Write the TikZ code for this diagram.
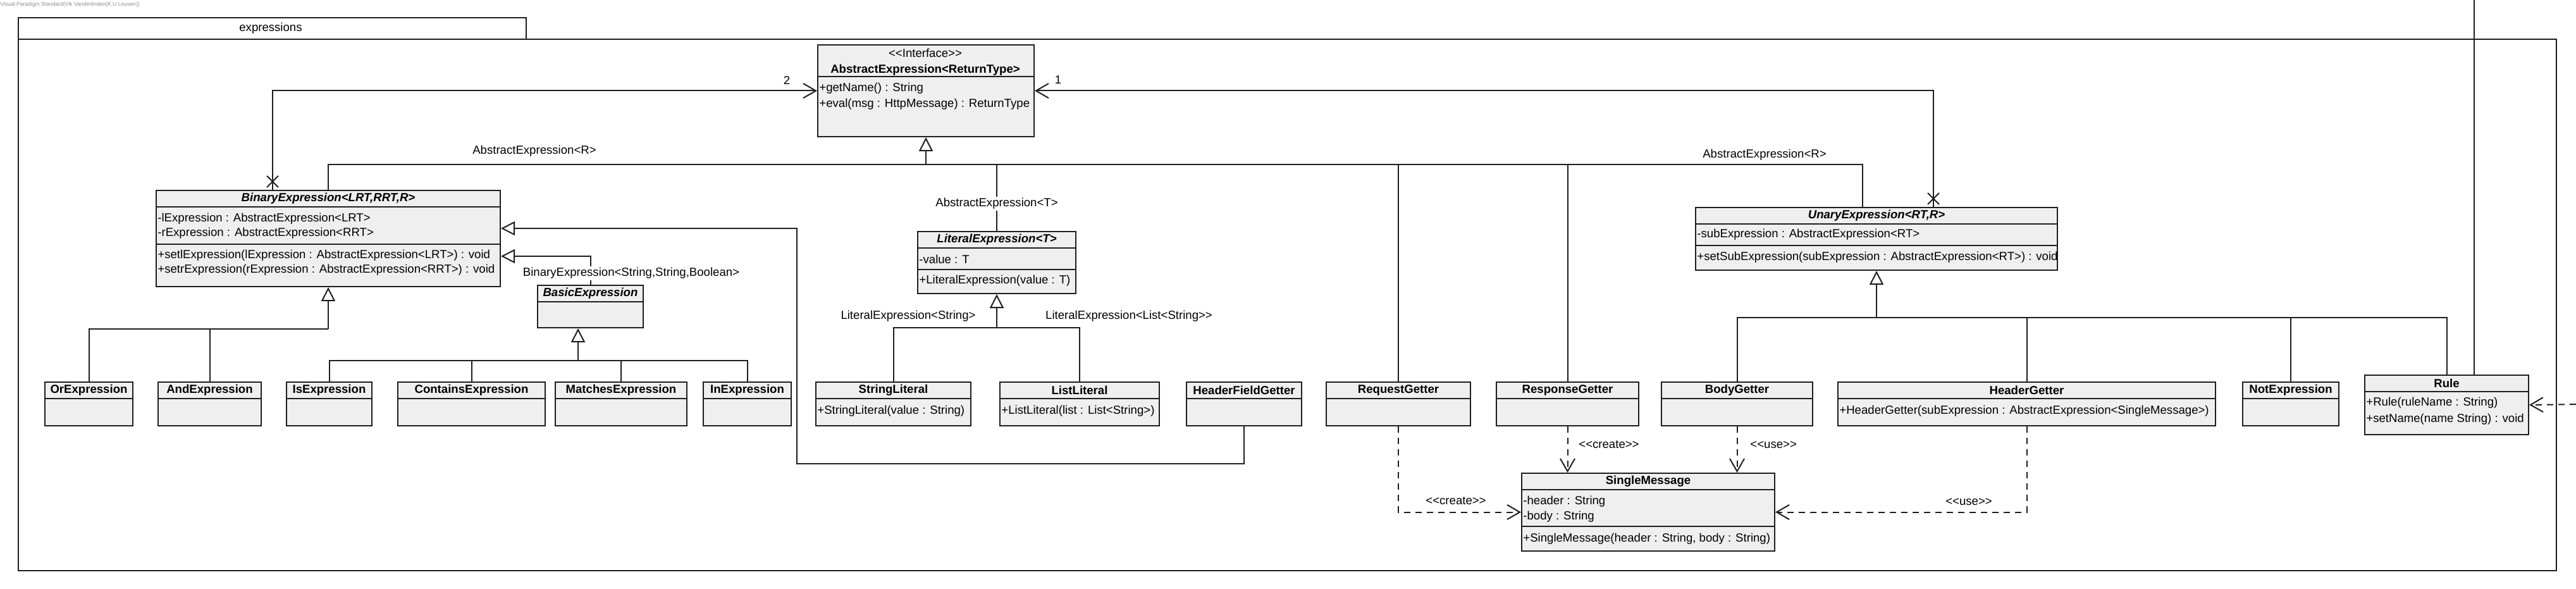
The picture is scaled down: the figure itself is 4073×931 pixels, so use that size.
\documentclass[tikz,border=0pt]{standalone}
\usepackage{fontspec}
\setmainfont{Liberation Sans}
\usetikzlibrary{arrows.meta, shapes.misc, calc, positioning}
\definecolor{classfill}{HTML}{EFEFEF}
\definecolor{umlline}{HTML}{1E1E1E}
\newcommand{\umlfont}{\fontsize{9.3}{11.5}\selectfont}
\newcommand{\dlt}{<\kern0pt<}
\newcommand{\dgt}{>\kern0pt>}
% box with title compartment: name, x, y, width, height, title style, title
\newcommand{\umlclass}[7]{%
  \node[classbox, wd=#4, ht=#5] (#1) at (#2,#3) {};
  \node[#6] (#1-title) at ($(#1.north)+(0,13.5)$) {#7};
  \draw[classsep] ($(#1.north west)+(0,27)$) -- ($(#1.north east)+(0,27)$);
}
\newcommand{\compsep}[2]{\draw[classsep] ($(#1.north west)+(0,#2)$) -- ($(#1.north east)+(0,#2)$);}
\tikzset{
    wd/.style={minimum width=#1*0.5pt},
    ht/.style={minimum height=#1*0.5pt},
    classbox/.style={draw=umlline, fill=classfill, line width=1pt, rectangle, anchor=north west, inner sep=0pt},
    classsep/.style={draw=umlline, line width=1pt},
    ctitle/.style={font=\umlfont\bfseries, inner sep=0pt},
    atitle/.style={font=\umlfont\bfseries\itshape, inner sep=0pt},
    member/.style={font=\umlfont, anchor=west, inner sep=0pt},
    rellabel/.style={font=\umlfont, fill=white, inner sep=1pt},
    conn/.style={draw=umlline, line width=1pt},
    gen/.style={conn, -{Triangle[open, length=11pt, width=11pt]}},
    nav/.style={conn, -{Straight Barb[length=10pt, width=11.5pt]}},
    dep/.style={nav, dash pattern=on 5pt off 4pt},
    xmark/.style={cross out, draw=umlline, line width=1pt, minimum size=8pt, inner sep=0pt},
    pkg/.style={draw=umlline, line width=1pt}
}

\begin{document}
\begin{tikzpicture}[x=0.5pt, y=-0.5pt]
\useasboundingbox (0,0) rectangle (4073,931);
\node[font=\fontsize{4.3}{5}\selectfont, text=black!45, anchor=west, inner sep=0pt] (vpmark) at (0,7) {Visual Paradigm Standard(Vik Vanderlinden(K.U.Leuven))};

% package frame
\draw[pkg] (29,28) rectangle (832,62);
\draw[pkg] (29,62) rectangle (4042,902);
\node[font=\umlfont] (pkgname) at (428,45) {expressions};

% interface
\node[classbox, wd=342, ht=145] (abs) at (1292,70) {};
\node[font=\umlfont, inner sep=0pt] (abs-st) at (1463,84) {\dlt Interface\dgt};
\node[ctitle] (abs-title) at (1463,111) {AbstractExpression<ReturnType>};
\compsep{abs}{51}
\node[member] (abs-m1) at (1295,140) {+getName() : String};
\node[member] (abs-m2) at (1295,165) {+eval(msg : HttpMessage) : ReturnType};

% abstract classes
\umlclass{bin}{246}{300}{544}{152}{atitle}{BinaryExpression<LRT,RRT,R>}
\compsep{bin}{86}
\node[member] (bin-a1) at (249,346) {-lExpression : AbstractExpression<LRT>};
\node[member] (bin-a2) at (249,369) {-rExpression : AbstractExpression<RRT>};
\node[member] (bin-o1) at (249,404) {+setlExpression(lExpression : AbstractExpression<LRT>) : void};
\node[member] (bin-o2) at (249,427) {+setrExpression(rExpression : AbstractExpression<RRT>) : void};

\umlclass{basic}{849}{450}{167}{67}{atitle}{BasicExpression}

\umlclass{lit}{1450}{365}{250}{98}{atitle}{LiteralExpression<T>}
\compsep{lit}{61}
\node[member] (lit-a1) at (1453,410) {-value : T};
\node[member] (lit-o1) at (1453,444) {+LiteralExpression(value : T)};

\umlclass{una}{2680}{327}{572}{99}{atitle}{UnaryExpression<RT,R>}
\compsep{una}{61}
\node[member] (una-a1) at (2683,371) {-subExpression : AbstractExpression<RT>};
\node[member] (una-o1) at (2683,407) {+setSubExpression(subExpression : AbstractExpression<RT>) : void};

% concrete classes
\umlclass{orx}{70}{603}{139}{69}{ctitle}{OrExpression}
\umlclass{andx}{249}{603}{163}{69}{ctitle}{AndExpression}
\umlclass{isx}{452}{603}{135}{69}{ctitle}{IsExpression}
\umlclass{conx}{628}{603}{233}{69}{ctitle}{ContainsExpression}
\umlclass{matx}{877}{603}{208}{69}{ctitle}{MatchesExpression}
\umlclass{inx}{1111}{603}{139}{69}{ctitle}{InExpression}
\umlclass{strlit}{1289}{603}{245}{69}{ctitle}{StringLiteral}
\node[member] (strlit-o1) at (1292,650) {+StringLiteral(value : String)};
\umlclass{lstlit}{1580}{603}{252}{69}{ctitle}{ListLiteral}
\node[member] (lstlit-o1) at (1583,650) {+ListLiteral(list : List<String>)};
\umlclass{hfg}{1875}{603}{182}{69}{ctitle}{HeaderFieldGetter}
\umlclass{reqg}{2096}{603}{228}{69}{ctitle}{RequestGetter}
\umlclass{resg}{2365}{603}{225}{69}{ctitle}{ResponseGetter}
\umlclass{bodyg}{2626}{603}{239}{69}{ctitle}{BodyGetter}
\umlclass{hdrg}{2905}{603}{597}{69}{ctitle}{HeaderGetter}
\node[member] (hdrg-o1) at (2908,650) {+HeaderGetter(subExpression : AbstractExpression<SingleMessage>)};
\umlclass{notx}{3545}{603}{152}{69}{ctitle}{NotExpression}
\umlclass{rule}{3738}{592}{259}{94}{ctitle}{Rule}
\node[member] (rule-o1) at (3741,637) {+Rule(ruleName : String)};
\node[member] (rule-o2) at (3741,663) {+setName(name String) : void};
\umlclass{smsg}{2405}{747}{400}{123}{ctitle}{SingleMessage}
\compsep{smsg}{85}
\node[member] (smsg-a1) at (2408,793) {-header : String};
\node[member] (smsg-a2) at (2408,817) {-body : String};
\node[member] (smsg-o1) at (2408,852) {+SingleMessage(header : String, body : String)};

% associations
\node[xmark] (binx) at (431,287) {};
\node[xmark] (unax) at (3057,314) {};
\draw[nav] (bin.north -| binx) |- (abs.west);
\draw[nav] (una.north -| unax) |- (abs.east);
\node[font=\umlfont, inner sep=0pt] (mult2) at (1244,127) {2};
\node[font=\umlfont, inner sep=0pt] (mult1) at (1673,126) {1};

% realisations of AbstractExpression
\coordinate (absbus) at (abs.south |- 0,260);
\draw[gen] (absbus) -- (abs.south);
\draw[conn] (bin.north -| 519,0) |- (absbus);
\draw[conn] (lit.north) -- (lit.north |- absbus);
\draw[conn] (reqg.north) -- (reqg.north |- absbus);
\draw[conn] (resg.north) -- (resg.north |- absbus);
\draw[conn] (una.north -| 2945,0) |- (absbus);
\node[rellabel] (binarg) at (845,239) {AbstractExpression<R>};
\node[rellabel] (unaarg) at (2790,245) {AbstractExpression<R>};
\node[rellabel] (litarg) at (1576,322) {AbstractExpression<T>};

% BinaryExpression subclasses
\coordinate (binbus) at (bin.south |- 0,520);
\draw[gen] (binbus) -- (bin.south);
\draw[conn] (orx.north) |- (binbus);
\draw[conn] (andx.north) |- (binbus);
\draw[gen] (basic.north) |- (bin.east |- 0,405);
\node[rellabel] (basicarg) at (998,432) {BinaryExpression<String,String,Boolean>};
\draw[gen] (hfg.south) |- (1260,733) |- (bin.east |- 0,361);

% BasicExpression subclasses
\coordinate (basbus) at (914,570);
\draw[gen] (basbus) -- (basbus |- basic.south);
\draw[conn] (isx.north) |- (basbus);
\draw[conn] (conx.north) |- (basbus);
\draw[conn] (matx.north) |- (basbus);
\draw[conn] (inx.north) |- (basbus);

% LiteralExpression subclasses
\coordinate (litbus) at (lit.south |- 0,518);
\draw[gen] (litbus) -- (lit.south);
\draw[conn] (strlit.north) |- (litbus);
\draw[conn] (lstlit.north) |- (litbus);
\node[rellabel] (strarg) at (1436,500) {LiteralExpression<String>};
\node[rellabel] (lstarg) at (1785,500) {LiteralExpression<List<String\dgt};

% UnaryExpression subclasses
\coordinate (unabus) at (una.south |- 0,502);
\draw[gen] (unabus) -- (una.south);
\draw[conn] (bodyg.north) |- (unabus);
\draw[conn] (hdrg.north) |- (unabus);
\draw[conn] (notx.north) |- (unabus);
\draw[conn] (rule.north) |- (unabus);

% dependencies on SingleMessage
\draw[dep] (reqg.south) |- (smsg.west);
\draw[dep] (resg.south) -- (resg.south |- smsg.north);
\draw[dep] (bodyg.south) -- (bodyg.south |- smsg.north);
\draw[dep] (hdrg.south) |- (smsg.east);
\node[font=\umlfont, inner sep=0pt] (crt1) at (2302,792) {\dlt create\dgt};
\node[font=\umlfont, anchor=west, inner sep=0pt] (crt2) at (2496,703) {\dlt create\dgt};
\node[font=\umlfont, anchor=west, inner sep=0pt] (use1) at (2767,703) {\dlt use\dgt};
\node[font=\umlfont, inner sep=0pt] (use2) at (3113,793) {\dlt use\dgt};

% links of Rule leaving the picture
\coordinate (ruleup) at (3912,0);
\draw[conn] (ruleup) -- (ruleup |- rule.north);
\coordinate (ruledep) at (4073,639);
\draw[dep] (ruledep) -- (rule.east);
\end{tikzpicture}
\end{document}
